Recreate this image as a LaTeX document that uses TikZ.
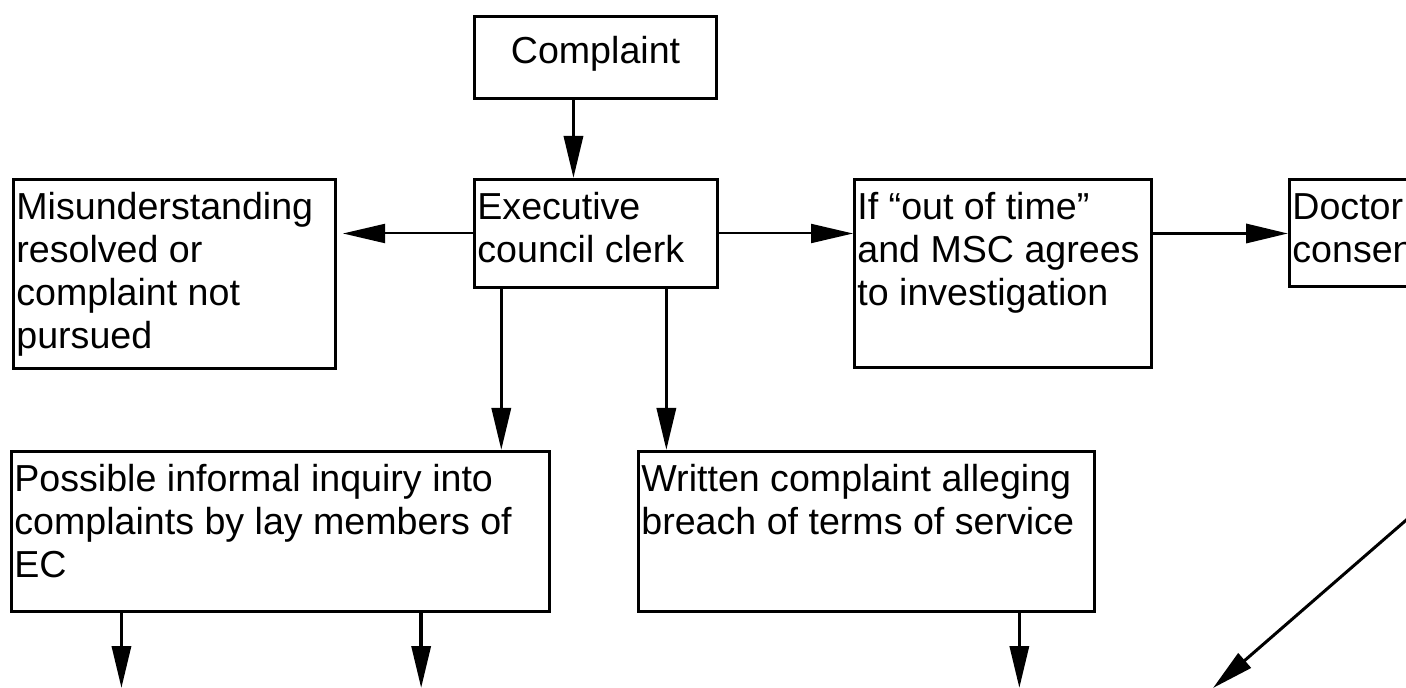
\documentclass[tikz,border=0pt]{standalone}
\usepackage{fontspec}
\setmainfont{Liberation Sans}
\usetikzlibrary{arrows.meta,calc}

\begin{document}
\begin{tikzpicture}[x=0.5pt,y=-0.5pt,
        box/.style={draw,line width=1.5pt,rectangle,anchor=north west,inner sep=0pt},
        lbl/.style={anchor=north west,align=left,inner sep=0pt,font=\fontsize{18.8}{21.5}\selectfont},
        arr/.style={-{Triangle[length=21pt,width=9.5pt]},line width=1.7pt}]
                        \useasboundingbox (0,0) rectangle (1406,688);
                        \node[box,minimum width=121pt,minimum height=41pt] (cmp) at (473,15) {};
                        \node[box,minimum width=121.5pt,minimum height=54pt] (exe) at (473,178) {};
                        \node[box,minimum width=161pt,minimum height=94.5pt] (mis) at (12,178) {};
                        \node[box,minimum width=148.5pt,minimum height=94pt] (oot) at (853,178) {};
                        \node[box,minimum width=140pt,minimum height=53.5pt] (doc) at (1288,178) {};
                        \node[box,minimum width=269pt,minimum height=80pt] (inf) at (10,450) {};
                        \node[box,minimum width=228pt,minimum height=80pt] (wrt) at (637,450) {};

                        \node[lbl,anchor=north] at ($(cmp.north)+(0,18)$) {\strut Complaint};
                        \node[lbl] at ($(exe.north west)+(4,11)$) {\strut Executive\\council clerk};
                        \node[lbl] at ($(mis.north west)+(4,11)$) {\strut Misunderstanding\\resolved or\\complaint not\\pursued};
                        \node[lbl] at ($(oot.north west)+(4,11)$) {\strut If “out of time”\\and MSC agrees\\to investigation};
                        \node[lbl] at ($(doc.north west)+(4,11)$) {\strut Doctor\\consents};
                        \node[lbl] at ($(inf.north west)+(4,11)$) {\strut Possible informal inquiry into\\complaints by lay members of\\EC};
                        \node[lbl] at ($(wrt.north west)+(4,11)$) {\strut Written complaint alleging\\breach of terms of service};

                        \coordinate (floor) at (0,688);
                        \coordinate (c1) at ($(cmp.south west)!.41!(cmp.south east)$);
                        \coordinate (e1) at ($(exe.south west)!.115!(exe.south east)$);
                        \coordinate (e2) at ($(exe.south west)!.786!(exe.south east)$);
                        \coordinate (b1) at ($(inf.south west)!.206!(inf.south east)$);
                        \coordinate (b2) at ($(inf.south west)!.76!(inf.south east)$);
                        \coordinate (b3) at ($(wrt.south west)!.833!(wrt.south east)$);
                        \coordinate (d0) at (1450,482);
                        \coordinate (d1) at (1213,688);

                        \draw[arr] (c1) -- (c1 |- exe.north);
                        \draw[arr] (e1) -- (e1 |- inf.north);
                        \draw[arr] (e2) -- (e2 |- wrt.north);
                        \draw[arr,line width=1pt,shorten >=3pt] (exe.west) -- (exe.west -| mis.east);
                        \draw[arr,line width=1pt] (exe.east) -- (exe.east -| oot.west);
                        \draw[arr] (exe.east -| oot.east) -- (exe.east -| doc.west);
                        \draw[arr] (b1) -- (b1 |- floor);
                        \draw[arr] (b2) -- (b2 |- floor);
                        \draw[arr] (b3) -- (b3 |- floor);
                        \draw[arr,line width=1.5pt] (d0) -- (d1);
                    \end{tikzpicture}
\end{document}
